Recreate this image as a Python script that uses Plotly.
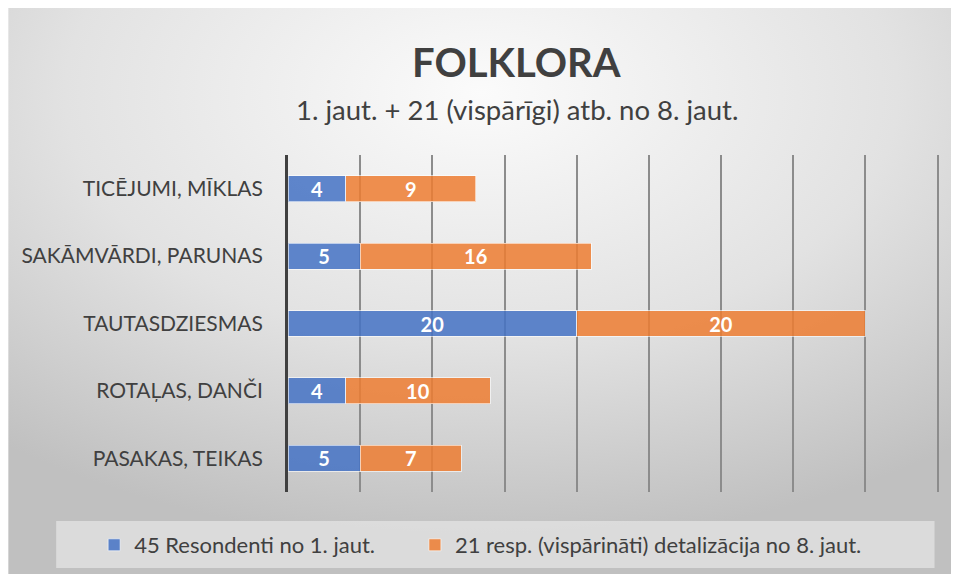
import base64
import plotly.graph_objects as go

categories = ["PASAKAS, TEIKAS", "ROTAĻAS, DANČI", "TAUTASDZIESMAS", "SAKĀMVĀRDI, PARUNAS", "TICĒJUMI, MĪKLAS"]
series1_name = "45 Resondenti no 1. jaut."
series1 = [5, 4, 20, 5, 4]
series2_name = "21 resp. (vispārināti) detalizācija no 8. jaut."
series2 = [7, 10, 20, 16, 9]
title = "FOLKLORA"
subtitle = "1. jaut. + 21 (vispārīgi) atb. no 8. jaut."

# page has an 8px body margin; figure coords = page coords - 8
OFF = 8
W, H = 959 - OFF, 579 - OFF
XMAX = 46
PL, PT, PB = 288, 155, 492
PR = PL + XMAX * (938 - 288) / 45  # 45 lands at page x=938
L, T = PL - OFF, PT - OFF
R, B = W - (PR - OFF), H - (PB - OFF)
pw, ph = PR - PL, PB - PT

def px(x):
    return (x - PL) / pw

def py(y):
    return (PB - y) / ph

svg = f'''<svg xmlns="http://www.w3.org/2000/svg" width="{W}" height="{H}" viewBox="0 0 {W} {H}">
<defs><radialGradient id="g" cx="50%" cy="15%" r="80%" gradientUnits="objectBoundingBox">
<stop offset="0" stop-color="#fbfbfb"/><stop offset="0.55" stop-color="#e2e2e2"/><stop offset="1" stop-color="#c0c0c0"/></radialGradient></defs>
<rect x="0" y="0" width="{W}" height="{H}" fill="#ffffff"/>
<rect x="0" y="0" width="{W-4}" height="{H-5}" fill="url(#g)"/>
</svg>'''
src = "data:image/svg+xml;base64," + base64.b64encode(svg.encode()).decode()

font = "Lato, 'Open Sans', sans-serif"

fig = go.Figure()
fig.add_trace(go.Bar(
    y=categories, x=series1, name=series1_name, orientation="h", legend="legend",
    marker=dict(color="rgba(68,114,196,0.85)", line=dict(color="rgba(255,255,255,0.6)", width=1)),
    text=series1, textposition="inside", insidetextanchor="middle", textangle=0,
    constraintext="none",
    textfont=dict(color="white", size=20, family=font, weight="bold"),
))
fig.add_trace(go.Bar(
    y=categories, x=series2, name=series2_name, orientation="h", legend="legend2",
    marker=dict(color="rgba(237,125,49,0.85)", line=dict(color="rgba(255,255,255,0.6)", width=1)),
    text=series2, textposition="inside", insidetextanchor="middle", textangle=0,
    constraintext="none",
    textfont=dict(color="white", size=20, family=font, weight="bold"),
))

legend_common = dict(orientation="h", yanchor="middle", xanchor="left",
                     bgcolor="rgba(0,0,0,0)", font=dict(size=22, color="#404040"),
                     itemwidth=30)

fig.update_layout(
    width=W, height=H,
    margin=dict(l=L, r=R, t=T, b=B, autoexpand=False),
    barmode="stack", bargap=0.615,
    paper_bgcolor="white", plot_bgcolor="rgba(0,0,0,0)",
    font=dict(family=font, color="#404040"),
    showlegend=True,
    legend=dict(x=px(94), y=py(545), **legend_common),
    legend2=dict(x=px(415), y=py(545), **legend_common),
    xaxis=dict(range=[0, XMAX], tickvals=list(range(5, 46, 5)), showgrid=True,
               gridcolor="#8c8c8c", gridwidth=2,
               showticklabels=False, zeroline=False, showline=False, fixedrange=True,
               automargin=False),
    yaxis=dict(showline=True, linecolor="#404040", linewidth=3, ticks="",
               tickfont=dict(size=21, color="#404040"), ticklabelstandoff=18,
               showgrid=False, automargin=False),
    images=[dict(source=src, xref="paper", yref="paper", x=px(OFF), y=py(OFF),
                 sizex=W / pw, sizey=H / ph, sizing="stretch", layer="below",
                 xanchor="left", yanchor="top")],
    shapes=[dict(type="rect", xref="paper", yref="paper", x0=px(56), x1=px(935),
                 y0=py(568), y1=py(521), fillcolor="rgba(240,240,240,0.55)",
                 line=dict(width=0), layer="below")],
    annotations=[
        dict(text=f"<b>{title}</b>", xref="paper", yref="paper", x=px(517), y=py(62),
             showarrow=False, font=dict(size=40, color="#404040", family=font),
             xanchor="center", yanchor="middle"),
        dict(text=subtitle, xref="paper", yref="paper", x=px(517), y=py(110),
             showarrow=False, font=dict(size=27.5, color="#404040", family=font),
             xanchor="center", yanchor="middle"),
    ],
)

fig.write_html("out.html")
